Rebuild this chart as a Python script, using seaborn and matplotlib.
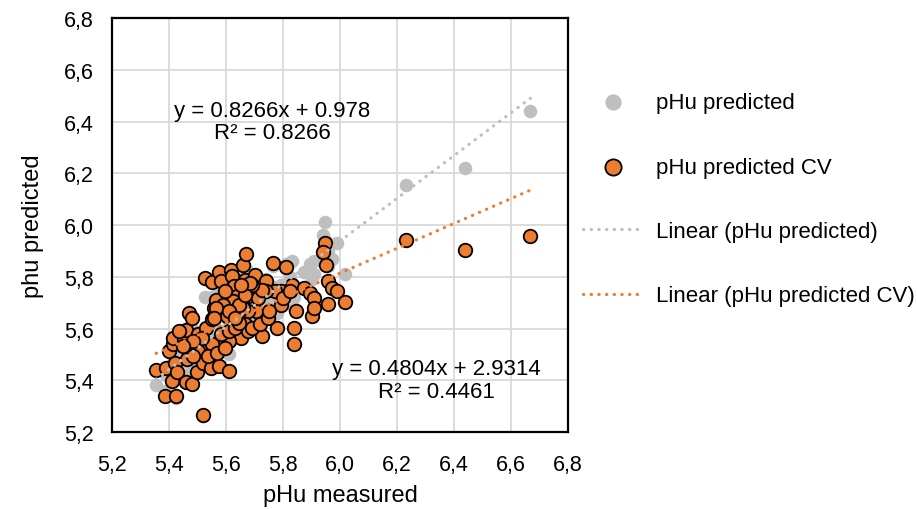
import numpy as np
import pandas as pd
import matplotlib
matplotlib.use("Agg")
import matplotlib.pyplot as plt
import seaborn as sns

# measured pHu and the two predictions
ph_measured = [5.355, 5.386, 5.426, 5.389, 5.399, 5.415, 5.409, 5.422, 5.429, 5.415,
               5.458, 5.480, 5.463, 5.452, 5.460, 5.469, 5.480, 5.499, 5.490, 5.503,
               5.521, 5.521, 5.530, 5.550, 5.547, 5.577, 5.611, 5.530, 5.550, 5.557,
               5.564, 5.527, 5.550, 5.577, 5.584, 5.617, 5.621, 5.628, 5.658, 5.671,
               5.665, 5.702, 5.739, 5.766, 5.810, 5.833, 5.873, 5.894, 5.910, 5.846,
               5.840, 5.840, 5.900, 5.910, 5.947, 5.941, 5.950, 5.958, 5.971, 5.990,
               5.958, 6.019, 6.230, 6.439, 6.668, 5.779, 5.726, 5.726, 5.793, 5.793,
               5.772, 5.739, 5.705, 5.678, 5.651, 5.611, 5.584, 5.604, 5.638, 5.665,
               5.678, 5.638, 5.624, 5.678, 5.712, 5.726, 5.692, 5.597, 5.590, 5.564,
               5.557, 5.503, 5.517, 5.537, 5.483, 5.483, 5.449, 5.436, 5.570, 5.597,
               5.611, 5.631, 5.644, 5.692, 5.719, 5.746, 5.752, 5.799, 5.826, 5.658,
               5.644, 5.611, 5.665, 5.685, 5.651, 5.631]

ph_predicted_cv = [5.439, 5.340, 5.340, 5.449, 5.513, 5.539, 5.398, 5.468, 5.430, 5.564,
                   5.392, 5.385, 5.481, 5.558, 5.596, 5.660, 5.641, 5.430, 5.526, 5.577,
                   5.264, 5.468, 5.513, 5.539, 5.449, 5.456, 5.434, 5.603, 5.635, 5.680,
                   5.712, 5.795, 5.779, 5.820, 5.782, 5.827, 5.801, 5.763, 5.846, 5.887,
                   5.788, 5.808, 5.785, 5.852, 5.836, 5.769, 5.756, 5.737, 5.718, 5.667,
                   5.603, 5.539, 5.648, 5.680, 5.929, 5.897, 5.846, 5.782, 5.756, 5.744,
                   5.695, 5.703, 5.942, 5.904, 5.959, 5.603, 5.571, 5.635, 5.692, 5.744,
                   5.744, 5.744, 5.667, 5.667, 5.564, 5.552, 5.577, 5.648, 5.641, 5.616,
                   5.590, 5.724, 5.705, 5.724, 5.718, 5.750, 5.769, 5.744, 5.692, 5.680,
                   5.641, 5.513, 5.564, 5.494, 5.552, 5.494, 5.532, 5.590, 5.507, 5.526,
                   5.590, 5.603, 5.622, 5.603, 5.616, 5.641, 5.667, 5.718, 5.744, 5.680,
                   5.692, 5.667, 5.731, 5.776, 5.769, 5.641]

ph_predicted = [5.38, 5.36, 5.33, 5.42, 5.44, 5.47, 5.40, 5.45, 5.43, 5.50,
                5.42, 5.44, 5.47, 5.52, 5.55, 5.58, 5.60, 5.46, 5.52, 5.55,
                5.26, 5.50, 5.54, 5.56, 5.49, 5.51, 5.50, 5.59, 5.62, 5.66,
                5.70, 5.72, 5.72, 5.76, 5.74, 5.78, 5.77, 5.75, 5.80, 5.83,
                5.77, 5.80, 5.79, 5.84, 5.85, 5.86, 5.82, 5.85, 5.86, 5.76,
                5.72, 5.68, 5.79, 5.81, 6.01, 5.96, 5.94, 5.90, 5.87, 5.93,
                5.84, 5.81, 6.156, 6.220, 6.441, 5.66, 5.63, 5.67, 5.74, 5.77,
                5.76, 5.75, 5.69, 5.68, 5.60, 5.58, 5.59, 5.64, 5.65, 5.64,
                5.62, 5.71, 5.69, 5.72, 5.73, 5.75, 5.75, 5.71, 5.67, 5.65,
                5.63, 5.52, 5.55, 5.52, 5.53, 5.50, 5.50, 5.52, 5.54, 5.56,
                5.61, 5.63, 5.64, 5.65, 5.67, 5.70, 5.72, 5.77, 5.80, 5.68,
                5.68, 5.66, 5.72, 5.75, 5.74, 5.64]

# trendline coefficients shown on the chart
fit_pred = (0.8266, 0.978, 0.8266)
fit_cv = (0.4804, 2.9314, 0.4461)

GRAY = "#BFBFBF"
ORANGE = "#ED7D31"

df = pd.DataFrame({"measured": ph_measured,
                   "pred": ph_predicted,
                   "cv": ph_predicted_cv})

sns.set_style("white")
plt.rcParams["font.family"] = ["Liberation Sans", "DejaVu Sans"]
plt.rcParams["text.color"] = "black"
plt.rcParams["axes.labelcolor"] = "black"
plt.rcParams["xtick.color"] = "black"
plt.rcParams["ytick.color"] = "black"

fig = plt.figure(figsize=(9.17, 5.10), dpi=100)
ax = fig.add_axes([112 / 917, 77 / 510, 456 / 917, 414 / 510])

sns.scatterplot(data=df, x="measured", y="pred", ax=ax, color=GRAY,
                s=95, linewidth=0, label="pHu predicted", zorder=2)
sns.scatterplot(data=df, x="measured", y="cv", ax=ax, color=ORANGE,
                s=95, edgecolor="black", linewidth=1.3,
                label="pHu predicted CV", zorder=3)

xs = np.array([min(ph_measured), max(ph_measured)])
dots = (0, (0.1, 2.3))
ax.plot(xs, fit_pred[0] * xs + fit_pred[1], color=GRAY, lw=2.3,
        linestyle=dots, dash_capstyle="round", zorder=4,
        label="Linear (pHu predicted)")
ax.plot(xs, fit_cv[0] * xs + fit_cv[1], color=ORANGE, lw=2.3,
        linestyle=dots, dash_capstyle="round", zorder=4,
        label="Linear (pHu predicted CV)")

ticks = np.round(np.arange(5.2, 6.81, 0.2), 1)
ax.set_xlim(5.2, 6.8)
ax.set_ylim(5.2, 6.8)
ax.set_xticks(ticks)
ax.set_yticks(ticks)
ax.set_xticklabels([f"{t:.1f}".replace(".", ",") for t in ticks], fontsize=15.5)
ax.set_yticklabels([f"{t:.1f}".replace(".", ",") for t in ticks], fontsize=15.5)
ax.tick_params(axis="x", length=0, pad=16)
ax.tick_params(axis="y", length=0, pad=13)
ax.grid(True, color="#D9D9D9", lw=1.3)
ax.set_axisbelow(True)
for sp in ax.spines.values():
    sp.set_color("black")
    sp.set_linewidth(1.6)

ax.set_xlabel("pHu measured", fontsize=17, labelpad=6)
ax.set_ylabel("phu predicted", fontsize=17, labelpad=14)

ax.text(5.761, 6.40, f"y = {fit_pred[0]}x + {fit_pred[1]}\nR² = {fit_pred[2]}",
        ha="center", va="center", fontsize=16, linespacing=1.1, zorder=5)
ax.text(6.337, 5.401, f"y = {fit_cv[0]}x + {fit_cv[1]}\nR² = {fit_cv[2]}",
        ha="center", va="center", fontsize=16, linespacing=1.1, zorder=5)

ax.legend(loc="upper left", bbox_to_anchor=(0.636, 0.817),
          bbox_transform=fig.transFigure, frameon=False, fontsize=16,
          labelspacing=1.95, handlelength=2.7, handletextpad=0.56,
          borderaxespad=0, borderpad=0, markerscale=1.2)

fig.savefig("out.png", dpi=100)
